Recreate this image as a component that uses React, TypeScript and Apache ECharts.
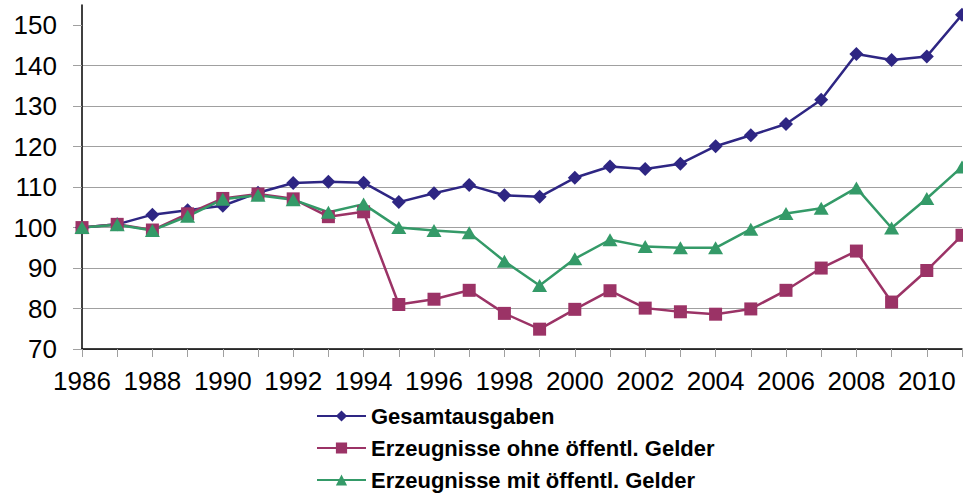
import React, { useEffect, useRef } from "react";
import * as echarts from "echarts";

const years = [
  "1986", "1987", "1988", "1989", "1990", "1991", "1992", "1993", "1994", "1995",
  "1996", "1997", "1998", "1999", "2000", "2001", "2002", "2003", "2004", "2005",
  "2006", "2007", "2008", "2009", "2010", "2011",
];

const gesamtausgaben = [
  100, 100.8, 103.2, 104.3, 105.4, 108.6, 111.0, 111.3, 111.1, 106.3,
  108.5, 110.5, 108.0, 107.6, 112.3, 115.1, 114.5, 115.8, 120.1, 122.8,
  125.6, 131.6, 142.9, 141.4, 142.3, 152.6,
];

const ohneGelder = [
  100, 100.8, 99.4, 103.4, 107.2, 108.3, 107.1, 102.7, 103.9, 81.0,
  82.3, 84.5, 78.8, 74.9, 79.8, 84.4, 80.1, 79.2, 78.6, 79.9,
  84.5, 90.0, 94.2, 81.6, 89.4, 98.1,
];

const mitGelder = [
  100, 100.7, 99.3, 102.8, 107.0, 108.0, 106.9, 103.8, 105.8, 100.0,
  99.3, 98.7, 91.7, 85.7, 92.3, 97.0, 95.3, 95.0, 95.0, 99.6,
  103.5, 104.8, 109.8, 99.9, 107.2, 115.0,
];

const yTickValues = [70, 80, 90, 100, 110, 120, 130, 140, 150];

const seriesNames = [
  "Gesamtausgaben",
  "Erzeugnisse ohne öffentl. Gelder",
  "Erzeugnisse mit öffentl. Gelder",
];

const colors = ["#2E2683", "#9B3366", "#349A68"];

export default function App() {
  const ref = useRef<HTMLDivElement>(null);

  useEffect(() => {
    if (!ref.current) return;
    const chart = echarts.init(ref.current, null, { renderer: "svg" });
    const font = "'Liberation Sans', Arial, sans-serif";
    chart.setOption({
      animation: false,
      backgroundColor: "#ffffff",
      grid: { left: 82, right: 1, top: 5, bottom: 146, containLabel: false },
      legend: {
        orient: "vertical",
        left: 316,
        top: 405,
        itemWidth: 49,
        itemHeight: 14,
        itemGap: 10,
        data: seriesNames,
        textStyle: {
          fontFamily: font,
          fontSize: 22,
          fontWeight: "bold",
          color: "#000",
          padding: [0, 0, 0, 0],
        },
        padding: 0,
      },
      xAxis: {
        type: "category",
        data: years,
        boundaryGap: false,
        axisLine: { lineStyle: { color: "#000", width: 1.5 } },
        axisTick: {
          show: true,
          interval: 0,
          length: 8,
          lineStyle: { color: "#a0a0a0", width: 1 },
        },
        axisLabel: {
          interval: 1,
          margin: 19,
          fontFamily: font,
          fontSize: 26,
          color: "#000",
        },
        splitLine: { show: false },
      },
      yAxis: {
        type: "value",
        min: 70,
        max: 155,
        interval: 10,
        axisLine: { show: true, lineStyle: { color: "#000", width: 1.5 } },
        axisTick: {
          show: true,
          length: 9,
          customValues: yTickValues,
          lineStyle: { color: "#a0a0a0", width: 1 },
        },
        axisLabel: {
          margin: 25,
          customValues: yTickValues,
          fontFamily: font,
          fontSize: 26,
          color: "#000",
        },
        splitLine: {
          show: true,
          showMaxLine: false,
          lineStyle: { color: "#a0a0a0", width: 1 },
        },
      },
      series: [
        {
          name: seriesNames[0],
          type: "line",
          data: gesamtausgaben,
          symbol: "diamond",
          symbolSize: 14,
          lineStyle: { color: colors[0], width: 2.5 },
          itemStyle: { color: colors[0] },
        },
        {
          name: seriesNames[1],
          type: "line",
          data: ohneGelder,
          symbol: "rect",
          symbolSize: 13,
          lineStyle: { color: colors[1], width: 2.5 },
          itemStyle: { color: colors[1] },
        },
        {
          name: seriesNames[2],
          type: "line",
          data: mitGelder,
          symbol: "triangle",
          symbolSize: [15, 13],
          lineStyle: { color: colors[2], width: 2.5 },
          itemStyle: { color: colors[2] },
        },
      ],
    });
    return () => chart.dispose();
  }, []);

  return (
    <div
      ref={ref}
      style={{ position: "fixed", left: 0, top: 0, width: 963, height: 495, background: "#fff" }}
    />
  );
}
